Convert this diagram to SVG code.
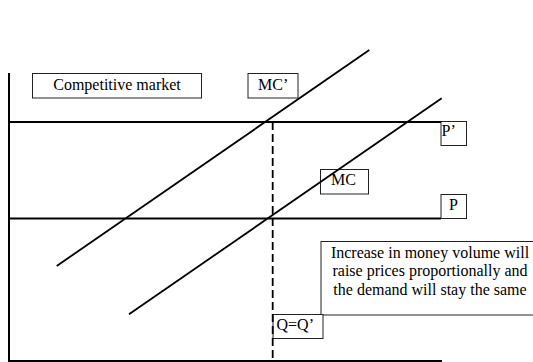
<svg xmlns="http://www.w3.org/2000/svg" width="533" height="362" viewBox="0 0 533 362">
<style>
.lbl{fill:#fff;stroke:#222;stroke-width:1}
.t{font-family:"Liberation Serif","Times New Roman",serif;font-size:16px;fill:#000}
.ax{stroke:#000;stroke-width:2;fill:none}
.ln{stroke:#000;stroke-width:1.8;fill:none}
</style>
<rect width="533" height="362" fill="#fff"/>
<g id="competitive">
<rect class="lbl" x="32.5" y="73.5" width="169" height="24.5"/>
<text class="t" x="117" y="90" text-anchor="middle">Competitive market</text>
</g>
<g id="mcprime">
<rect class="lbl" x="248" y="73.5" width="50" height="24.5"/>
<text class="t" x="258" y="90">MC’</text>
</g>
<g id="mc">
<rect class="lbl" x="320.5" y="169.5" width="48" height="24.5"/>
<text class="t" x="331" y="185">MC</text>
</g>
<g id="pprime">
<rect class="lbl" x="441" y="121.5" width="25.5" height="24"/>
<text class="t" x="441.5" y="136">P’</text>
</g>
<g id="p">
<rect class="lbl" x="441" y="194.5" width="25.5" height="24"/>
<text class="t" x="449" y="210">P</text>
</g>
<g id="note">
<rect class="lbl" x="321" y="241.5" width="220" height="73.5"/>
<text class="t" x="430" y="258" text-anchor="middle">Increase in money volume will</text>
<text class="t" x="430" y="276.4" text-anchor="middle">raise prices proportionally and</text>
<text class="t" x="430" y="294.8" text-anchor="middle">the demand will stay the same</text>
</g>
<g id="qq">
<rect class="lbl" x="273" y="314.5" width="50" height="24"/>
<text class="t" x="276.5" y="330">Q=Q’</text>
</g>
<g id="connectors">
<line class="ax" x1="9" y1="73" x2="9" y2="362"/>
<line class="ax" x1="8" y1="361" x2="442" y2="361"/>
<line class="ln" x1="9" y1="122" x2="441" y2="122"/>
<line class="ln" x1="9" y1="218.5" x2="441" y2="218.5"/>
<line class="ln" x1="56.7" y1="266" x2="369.3" y2="50"/>
<line class="ln" x1="129" y1="314.3" x2="441.7" y2="98.3"/>
<line class="ln" x1="272.7" y1="122" x2="272.7" y2="362" stroke-dasharray="8,4"/>
</g>
</svg>
